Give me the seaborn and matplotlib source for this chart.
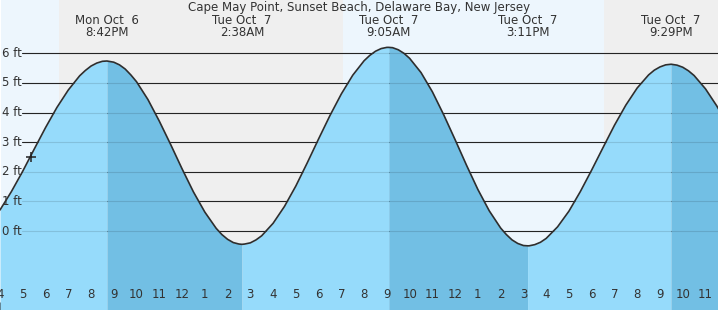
import matplotlib
matplotlib.use("Agg")
import matplotlib.pyplot as plt
import seaborn as sns
import numpy as np
import pandas as pd

# ---- data (hours relative to midnight, Tue Oct 7) ----
read_times = [-8.0, -7.5, -7.0, -6.5, -6.0, -5.5, -5.0, -4.5, -4.25, -4.0, -3.75, -3.5,
              -3.0, -2.75, -2.5, -2.25, -2.0, -1.5, -1.0, -0.5, 0.0, 0.5, 1.0, 1.5, 1.75,
              2.0, 2.25, 2.5,
              2.75, 3.0, 3.25, 3.5, 4.0, 4.5, 5.0, 5.5, 6.0, 6.5, 7.0, 7.5, 8.0, 8.25, 8.5,
              8.75, 9.0,
              9.25, 9.5, 9.75, 10.0, 10.5, 11.0, 11.5, 12.0, 12.5, 13.0, 13.5, 14.0, 14.25,
              14.5, 14.75, 15.0,
              15.25, 15.5, 15.75, 16.0, 16.5, 17.0, 17.5, 18.0, 18.5, 19.0, 19.5, 20.0, 20.5,
              20.75, 21.0, 21.25,
              21.5, 21.75, 22.0, 22.25, 22.5, 23.0, 23.5, 24.0]
read_heights = [0.71, 1.33, 2.02, 2.76, 3.49, 4.17, 4.76, 5.24, 5.42, 5.57, 5.67, 5.73,
                5.70, 5.61, 5.47, 5.27, 5.04, 4.44, 3.71, 2.92, 2.10, 1.32, 0.64, 0.09, -0.12,
                -0.28, -0.39, -0.44,
                -0.44, -0.40, -0.30, -0.16, 0.26, 0.83, 1.52, 2.30, 3.11, 3.90, 4.63, 5.26, 5.75,
                5.93, 6.07, 6.16, 6.20,
                6.19, 6.12, 6.00, 5.83, 5.35, 4.70, 3.92, 3.08, 2.22, 1.40, 0.68, 0.10, -0.12,
                -0.30, -0.42, -0.49,
                -0.50, -0.46, -0.38, -0.25, 0.14, 0.67, 1.33, 2.06, 2.82, 3.57, 4.25, 4.83, 5.27,
                5.43, 5.54, 5.61,
                5.63, 5.60, 5.53, 5.41, 5.25, 4.80, 4.22, 3.54]

event_times = [-3.30, 2.633, 9.083, 15.183, 21.483]
event_heights = [5.74, -0.45, 6.20, -0.50, 5.63]
event_kind = ["high", "low", "high", "low", "high"]
event_days = ["Mon Oct  6", "Tue Oct  7", "Tue Oct  7", "Tue Oct  7", "Tue Oct  7"]
event_clock = ["8:42PM", "2:38AM", "9:05AM", "3:11PM", "9:29PM"]

sun_times = [-5.39, 7.06, 18.55]        # sunset, sunrise, sunset
now_time, now_height = -6.63, 2.50

hour_ticks = list(range(-8, 24))
hour_labels = ["4", "5", "6", "7", "8", "9", "10", "11", "12", "1", "2", "3",
               "4", "5", "6", "7", "8", "9", "10", "11", "12", "1", "2", "3",
               "4", "5", "6", "7", "8", "9", "10", "11"]
ft_levels = [0, 1, 2, 3, 4, 5, 6]
title = "Cape May Point, Sunset Beach, Delaware Bay, New Jersey"

# ---- style ----
sns.set_theme(style="white")
plt.rcParams["font.family"] = ["DejaVu Sans"]
TXT = "#333333"
DAY = "#edf6fd"
NIGHT = "#efefef"
RISE = "#96dbfb"
FALL = "#72bfe4"

XMIN, XMAX = -7.94, 23.55
YMIN, YMAX = -2.667, 7.80

fig = plt.figure(figsize=(7.18, 3.10), dpi=100)
ax = fig.add_axes([0, 0, 1, 1])
ax.set_xlim(XMIN, XMAX)
ax.set_ylim(YMIN, YMAX)
for s in ax.spines.values():
    s.set_visible(False)

# day / night background
bounds = [XMIN] + sun_times + [XMAX]
colors = [DAY, NIGHT, DAY, NIGHT]
for (a, b), c in zip(zip(bounds[:-1], bounds[1:]), colors):
    ax.axvspan(a, b, color=c, zorder=0, lw=0)

# grid lines
gx = 22 / 718
for lv in ft_levels:
    ax.axhline(lv, xmin=gx, xmax=1, color="#2a2a2a", lw=0.8, zorder=1)
    ax.text(0.003, lv, f"{lv} ft", transform=ax.get_yaxis_transform(),
            ha="left", va="center", fontsize=8.5, color=TXT, zorder=6)

# combined series
df = pd.DataFrame({"t": read_times + event_times,
                   "h": read_heights + event_heights}).sort_values("t").reset_index(drop=True)

# shaded fill per segment (rising light, falling dark)
seg_edges = [XMIN - 1] + event_times + [XMAX + 1]
seg_kind = ["rise"] + ["fall" if k == "high" else "rise" for k in event_kind]
for (a, b), k in zip(zip(seg_edges[:-1], seg_edges[1:]), seg_kind):
    m = (df["t"] >= a) & (df["t"] <= b)
    ax.fill_between(df["t"][m], df["h"][m], YMIN, color=RISE if k == "rise" else FALL,
                    lw=0, zorder=2)

# faint grid through fill
for lv in ft_levels:
    ax.axhline(lv, xmin=gx, xmax=1, color="#000000", alpha=0.12, lw=0.8, zorder=3)

sns.lineplot(data=df, x="t", y="h", ax=ax, color="#2e2e2e", lw=1.2, zorder=4,
             estimator=None, sort=True)
ax.plot([now_time], [now_height], marker="+", color="#222222", ms=7.5, mew=1.1, zorder=5)

# x ticks
ax.set_xticks(hour_ticks)
ax.set_xticklabels([])
ax.set_yticks([])
ax.tick_params(axis="x", direction="in", length=5.5, width=0.8, color=TXT, bottom=True)
ax.set_xlabel("")
ax.set_ylabel("")
mid = hour_ticks.index(0)
ax.xaxis.get_major_ticks()[mid].tick1line.set_markeredgewidth(3)
for t, lab in zip(hour_ticks, hour_labels):
    ax.text(t, (310 - 295) / 310, lab, transform=ax.get_xaxis_transform(),
            ha="center", va="center", fontsize=8.5, color=TXT, zorder=6)

# event labels
for t, d, c in zip(event_times, event_days, event_clock):
    ax.text(t, (310 - 20) / 310, d, transform=ax.get_xaxis_transform(),
            ha="center", va="center", fontsize=8.5, color=TXT, zorder=6)
    ax.text(t, (310 - 33) / 310, c, transform=ax.get_xaxis_transform(),
            ha="center", va="center", fontsize=8.5, color=TXT, zorder=6)

fig.text(0.5, 1 - 7 / 310, title, ha="center", va="center", fontsize=8.5, color=TXT)

fig.savefig("out.png", dpi=100)
